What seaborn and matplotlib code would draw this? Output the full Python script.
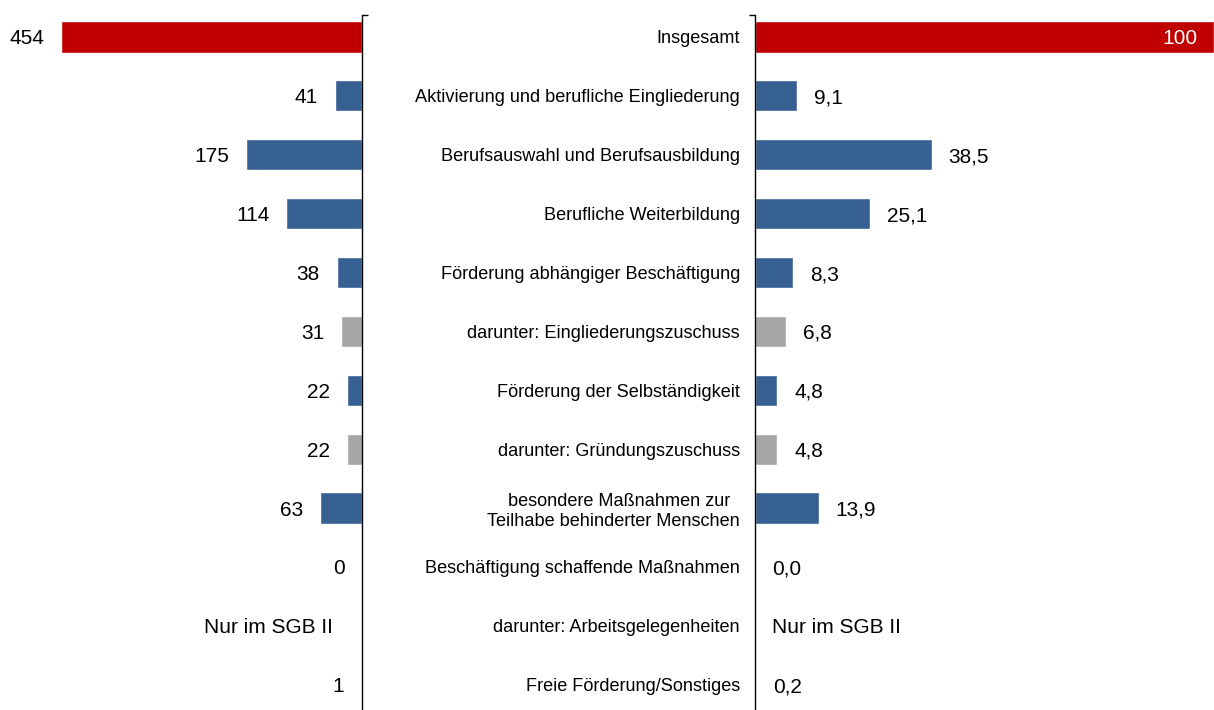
import numpy as np
import pandas as pd
import matplotlib.pyplot as plt
from matplotlib.ticker import FixedLocator
from matplotlib.transforms import offset_copy
import seaborn as sns

sns.set_theme(style="white")
plt.rcParams["font.family"] = ["Liberation Sans", "DejaVu Sans"]
plt.rcParams["text.color"] = "black"

# ---------------------------------------------------------
# Data
# ---------------------------------------------------------
labels = [
    "Insgesamt",
    "Aktivierung und berufliche Eingliederung",
    "Berufsauswahl und Berufsausbildung",
    "Berufliche Weiterbildung",
    "Förderung abhängiger Beschäftigung",
    "darunter: Eingliederungszuschuss",
    "Förderung der Selbständigkeit",
    "darunter: Gründungszuschuss",
    "besondere Maßnahmen zur  \nTeilhabe behinderter Menschen",
    "Beschäftigung schaffende Maßnahmen",
    "darunter: Arbeitsgelegenheiten",
    "Freie Förderung/Sonstiges",
]
absolute = [454, 41, 175, 114, 38, 31, 22, 22, 63, 0, np.nan, 1]
share = [100, 9.1, 38.5, 25.1, 8.3, 6.8, 4.8, 4.8, 13.9, 0.0, np.nan, 0.2]
kind = ["total", "main", "main", "main", "main", "sub", "main", "sub", "main", "main", "sub", "main"]
missing_text = "Nur im SGB II"

palette = {"total": "#C00000", "main": "#376092", "sub": "#A6A6A6"}

df = pd.DataFrame({"label": labels, "absolute": absolute, "share": share, "kind": kind})

# ---------------------------------------------------------
# Figure
# ---------------------------------------------------------
W, H = 1214, 710
fig = plt.figure(figsize=(W / 100, H / 100), dpi=100)
axL = fig.add_axes([0, 0, 362 / W, 1])
axR = fig.add_axes([755 / W, 0, 1 - 755 / W, 1])

sns.barplot(data=df, x="absolute", y="label", hue="kind", palette=palette, saturation=1,
            dodge=False, width=0.53, legend=False, ax=axL, orient="h")
sns.barplot(data=df, x="share", y="label", hue="kind", palette=palette, saturation=1,
            dodge=False, width=0.53, legend=False, ax=axR, orient="h")

ylim = (11.43, -0.628)
top_tick = -0.373
for ax in (axL, axR):
    ax.set_ylim(*ylim)
    ax.set_xlabel("")
    ax.set_ylabel("")
    ax.set_xticks([])
    for s in ax.spines.values():
        s.set_visible(False)

axL.set_xlim(546, 0)
axR.set_xlim(0, 100)

# left panel: spine on the right with a small bracket tick at the top
axL.spines["right"].set_visible(True)
axL.spines["right"].set_color("black")
axL.spines["right"].set_linewidth(1)
axL.spines["right"].set_bounds(top_tick, 12)
axL.yaxis.set_minor_locator(FixedLocator([top_tick]))
axL.tick_params(axis="y", which="major", left=False, right=False, labelleft=False, labelright=False)
axL.tick_params(axis="y", which="minor", left=False, right=True, length=4, width=1,
                direction="out", color="black")

# right panel: spine on the left, category labels as tick labels
axR.spines["left"].set_visible(True)
axR.spines["left"].set_color("black")
axR.spines["left"].set_linewidth(1)
axR.spines["left"].set_bounds(top_tick, 12)
axR.yaxis.set_minor_locator(FixedLocator([top_tick]))
axR.tick_params(axis="y", which="major", left=False, length=0, pad=10.8,
                labelsize=13.1, labelcolor="black")
axR.tick_params(axis="y", which="minor", left=True, length=4, width=1,
                direction="out", color="black")

# ---------------------------------------------------------
# Value labels
# ---------------------------------------------------------
off_l = offset_copy(axL.transData, fig=fig, x=-17, y=0, units="dots")
off_l_missing = offset_copy(axL.transData, fig=fig, x=-29, y=0, units="dots")
off_r = offset_copy(axR.transData, fig=fig, x=17, y=0, units="dots")
in_r = offset_copy(axR.transData, fig=fig, x=-17, y=0, units="dots")

va = "center_baseline"
for i, row in df.iterrows():
    if np.isnan(row["absolute"]):
        axL.text(0, i, missing_text, transform=off_l_missing, ha="right", va=va,
                 fontsize=15, color="black")
    else:
        axL.text(row["absolute"], i, f"{row['absolute']:.0f}", transform=off_l,
                 ha="right", va=va, fontsize=15, color="black")
    if np.isnan(row["share"]):
        axR.text(0, i, missing_text, transform=off_r, ha="left", va=va,
                 fontsize=15, color="black")
    elif row["kind"] == "total":
        axR.text(row["share"], i, f"{row['share']:.0f}", transform=in_r,
                 ha="right", va=va, fontsize=15, color="white")
    else:
        axR.text(row["share"], i, f"{row['share']:.1f}".replace(".", ","), transform=off_r,
                 ha="left", va=va, fontsize=15, color="black")

fig.savefig("out.png", dpi=100)
plt.close(fig)
